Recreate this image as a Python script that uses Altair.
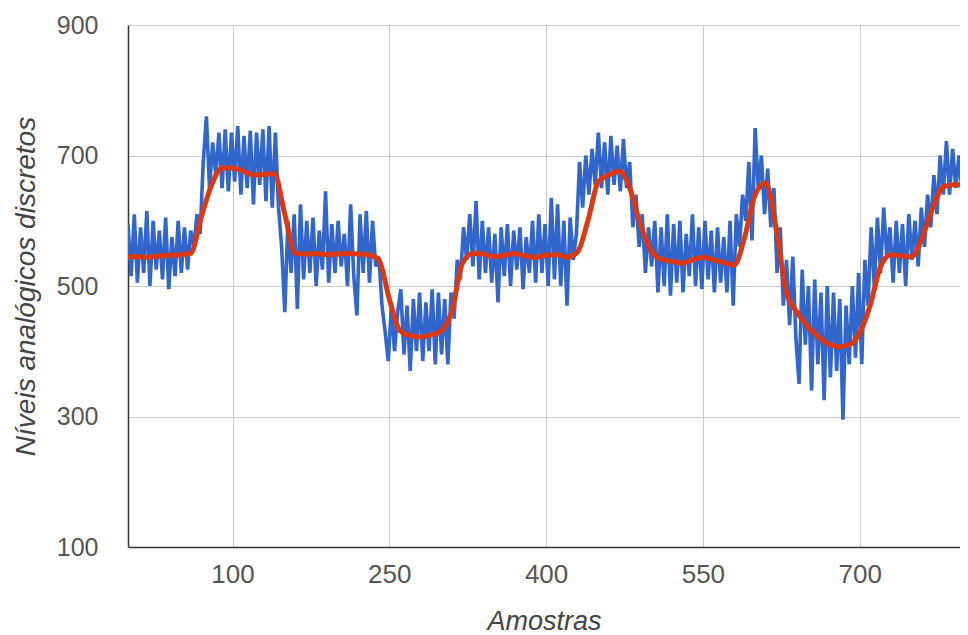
import altair as alt
import pandas as pd

# Raw samples (blue), one value every 3 samples
raw_step = 3
raw_values = [
    # 0-60
    595, 515, 610, 505, 590, 520, 615, 500, 600, 525, 585, 510, 605, 495, 575, 515, 600, 520, 590, 525, 585,
    # 63-87
    560, 610, 580, 690, 760, 650, 720, 670, 735,
    # 90-141
    650, 740, 645, 735, 660, 745, 640, 730, 650, 738, 625, 735, 655, 740, 630, 745, 620, 735,
    # 144-159
    620, 560, 460, 600, 520, 610,
    # 162-237
    465, 625, 510, 600, 520, 605, 500, 585, 525, 645, 505, 595, 520, 600, 530, 580, 500, 625, 515, 455,
    610, 520, 615, 505, 600, 530,
    # 240-258
    545, 470, 430, 385, 470, 400, 460,
    # 261-306
    495, 395, 470, 370, 480, 400, 490, 385, 475, 400, 495, 380, 490, 395, 480, 380,
    # 309-333
    490, 450, 540, 510, 590, 540, 610, 530, 630,
    # 336-426
    510, 600, 520, 590, 505, 580, 475, 590, 515, 595, 500, 585, 525, 590, 495, 575, 520, 600, 505, 610,
    520, 595, 500, 635, 510, 625, 500, 600, 470, 605, 540,
    # 429-447
    580, 690, 620, 700, 640, 710, 655,
    # 450-477
    735, 650, 720, 640, 730, 655, 715, 645, 725, 650,
    # 480-510
    690, 590, 640, 560, 610, 520, 590, 530, 600, 490, 590,
    # 513-579
    500, 610, 485, 595, 505, 600, 490, 580, 515, 610, 500, 590, 495, 600, 510, 585, 490, 590, 505, 575,
    490, 600, 470,
    # 582-618
    610, 560, 640, 600, 690, 570, 742, 650, 700, 610, 680, 590, 650,
    # 621-702
    520, 590, 470, 540, 440, 545, 420, 350, 525, 410, 500, 340, 510, 380, 490, 325, 500, 360, 490, 370,
    480, 295, 470, 380, 500, 390, 520, 380,
    # 705-729
    540, 470, 590, 500, 605, 520, 620, 545, 590,
    # 732-759
    505, 600, 520, 595, 500, 610, 540, 600, 530, 620,
    # 762-798
    560, 640, 590, 670, 610, 700, 640, 722, 640, 710, 650, 700, 640,
]

# Filtered signal (red), one value every 10 samples
filt_step = 10
filt_values = [
    545, 545, 544, 546, 547, 548, 550, 605, 655, 681,
    681, 676, 670, 671, 672, 610, 550, 549, 550, 548,
    549, 550, 549, 548, 540, 480, 432, 424, 422, 425,
    432, 463, 535, 550, 549, 545, 547, 550, 546, 544,
    547, 548, 544, 552, 600, 660, 670, 676, 650, 595,
    555, 541, 538, 535, 540, 544, 540, 536, 532, 575,
    640, 658, 590, 489, 460, 438, 423, 411, 407, 410,
    428, 470, 530, 548, 546, 545, 575, 620, 652, 655,
    655,
]

x_ticks = [100, 250, 400, 550, 700]
y_ticks = [100, 300, 500, 700, 900]

raw_df = pd.DataFrame({
    "Amostras": [i * raw_step for i in range(len(raw_values))],
    "valor": raw_values,
})
filt_df = pd.DataFrame({
    "Amostras": [i * filt_step for i in range(len(filt_values))],
    "valor": filt_values,
})

FONT = "Liberation Sans"

x_enc = alt.X(
    "Amostras:Q",
    scale=alt.Scale(domain=[0, 796], nice=False, zero=False),
    axis=alt.Axis(
        values=x_ticks, title="Amostras", grid=True, ticks=False,
        labelFontSize=26, labelColor="#555555", labelPadding=14, labelFont=FONT,
        titleFontSize=27, titleFontStyle="italic", titleFontWeight="normal",
        titleColor="#444444", titleFont=FONT, titlePadding=21,
        domainColor="#333333", domainWidth=1.5, gridColor="#cccccc",
        labelFlush=False,
    ),
)
y_enc = alt.Y(
    "valor:Q",
    scale=alt.Scale(domain=[100, 900], nice=False, zero=False),
    axis=alt.Axis(
        values=y_ticks, title="Níveis analógicos discretos", grid=True, ticks=False,
        labelFontSize=25, labelColor="#555555", labelPadding=30, labelFont=FONT,
        titleFontSize=28, titleFontStyle="italic", titleFontWeight="normal",
        titleColor="#444444", titleFont=FONT, titlePadding=16,
        domainColor="#333333", domainWidth=1.5, gridColor="#cccccc",
        labelFlush=False,
    ),
)

raw_line = alt.Chart(raw_df).mark_line(
    color="#3366cc", strokeWidth=3.6, clip=True
).encode(x=x_enc, y=y_enc)

filt_line = alt.Chart(filt_df).mark_line(
    color="#dc3912", strokeWidth=5, interpolate="monotone", clip=True
).encode(x="Amostras:Q", y="valor:Q")

chart = (
    alt.layer(raw_line, filt_line)
    .properties(
        width=832, height=522,
        autosize=alt.AutoSizeParams(type="none"),
        padding={"left": 120, "top": 17, "right": 0, "bottom": 88},
        background="white",
    )
    .configure_view(stroke=None)
)

chart.save("out.html", embed_options={"renderer": "svg", "actions": False})
